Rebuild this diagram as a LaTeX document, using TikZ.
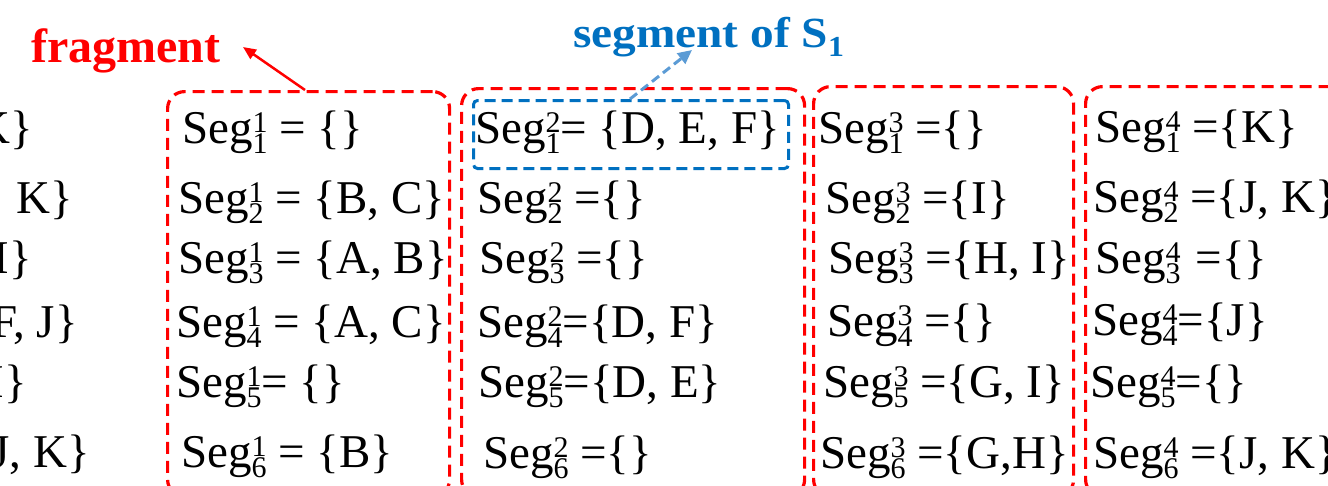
\documentclass[tikz,border=0pt]{standalone}
\usepackage{fontspec}
\setmainfont{Liberation Serif}
\usetikzlibrary{arrows.meta}
\newcommand\scr{\fontsize{30}{30}\selectfont}
\newcommand\sgx[2]{Seg\rlap{\raisebox{11pt}{\scr #1}}\raisebox{-10pt}{\scr #2}}
\definecolor{fragred}{HTML}{FF0000}
\definecolor{segblue}{HTML}{0070C0}
\definecolor{arrblue}{HTML}{5B9BD5}
\tikzset{
  entry/.style={anchor=base west, inner sep=0pt, font=\fontsize{47}{50}\selectfont},
  lentry/.style={anchor=base east, inner sep=0pt, font=\fontsize{47}{50}\selectfont},
  fragbox/.style={draw=fragred, line width=3.2pt, dash pattern=on 12pt off 7pt, rounded corners=17pt, anchor=north west, inner sep=0pt},
  segbox/.style={draw=segblue, line width=3pt, dash pattern=on 11pt off 6pt, rounded corners=4pt, anchor=north west, inner sep=0pt},
  redarrow/.style={draw=fragred, line width=2.5pt, -{Triangle[length=13pt,width=11pt]}},
  bluearrow/.style={draw=arrblue, line width=3pt, dash pattern=on 9pt off 5pt, -{Triangle[length=14pt,width=13pt]}},
}
\begin{document}
\begin{tikzpicture}[x=1pt,y=-1pt]
\useasboundingbox (0,0) rectangle (1328,485);
\clip (0,0) rectangle (1328,485);
% fragment boxes
\node[fragbox, minimum width=282pt, minimum height=405pt] (f1) at (166,90) {};
\node[fragbox, minimum width=343pt, minimum height=408pt] (f2) at (460,87) {};
\node[fragbox, minimum width=260pt, minimum height=410pt] (f3) at (812,85) {};
\node[fragbox, minimum width=262pt, minimum height=410pt] (f4) at (1084,85) {};
% blue segment box
\node[segbox, minimum width=315pt, minimum height=68pt] (sb) at (472,99) {};
% labels
\node[anchor=base west, inner sep=0pt, text=fragred, font=\fontsize{48}{50}\selectfont\bfseries] (frag) at (31,62) {fragment};
\node[anchor=base west, inner sep=0pt, text=segblue, font=\fontsize{43}{46}\selectfont\bfseries] (seglab) at (573,47) {\scalebox{1.1}[1]{segment of S\raisebox{-9pt}{\fontsize{29}{29}\selectfont 1}}};
% arrows
\coordinate (ra) at (305,90);
\coordinate (rt) at (243,47);
\draw[redarrow] (ra) -- (rt);
\coordinate (ba) at (630,99);
\coordinate (bt) at (692,50);
\draw[bluearrow] (ba) -- (bt);
% left partial column
\node[lentry] (l1) at (33,143) {K\}};
\node[lentry] (l2) at (73,213) {,\hspace{16pt}K\}};
\node[lentry] (l3) at (32,273) {I\}};
\node[lentry] (l4) at (78,337) {F, J\}};
\node[lentry] (l5) at (27,397) {I\}};
\node[lentry] (l6) at (90,467) {J, K\}};
% column 1
\node[entry] (a1) at (182,143) {\sgx{1}{1} = \{\}};
\node[entry] (a2) at (178,213) {\sgx{1}{2} = \{B, C\}};
\node[entry] (a3) at (178,273) {\sgx{1}{3} = \{A, B\}};
\node[entry] (a4) at (176,337) {\sgx{1}{4} = \{A, C\}};
\node[entry] (a5) at (176,397) {\sgx{1}{5}= \{\}};
\node[entry] (a6) at (181,467) {\sgx{1}{6} = \{B\}};
% column 2
\node[entry] (b1) at (475,143) {\sgx{2}{1}= \{D, E, F\}};
\node[entry] (b2) at (477,213) {\sgx{2}{2} =\{\}};
\node[entry] (b3) at (479,273) {\sgx{2}{3} =\{\}};
\node[entry] (b4) at (477,337) {\sgx{2}{4}=\{D, F\}};
\node[entry] (b5) at (478,397) {\sgx{2}{5}=\{D, E\}};
\node[entry] (b6) at (483,468) {\sgx{2}{6} =\{\}};
% column 3
\node[entry] (c1) at (818,143) {\sgx{3}{1} =\{\}};
\node[entry] (c2) at (825,213) {\sgx{3}{2} =\{I\}};
\node[entry] (c3) at (828,273) {\sgx{3}{3} =\{H, I\}};
\node[entry] (c4) at (827,336) {\sgx{3}{4} =\{\}};
\node[entry] (c5) at (823,397) {\sgx{3}{5} =\{G, I\}};
\node[entry] (c6) at (820,468) {\sgx{3}{6} =\{G,H\}};
% column 4
\node[entry] (d1) at (1095,142) {\sgx{4}{1} =\{K\}};
\node[entry] (d2) at (1093,212) {\sgx{4}{2} =\{J, K\}};
\node[entry] (d3) at (1095,273) {\sgx{4}{3}\hspace{15pt}=\{\}};
\node[entry] (d4) at (1092,335) {\sgx{4}{4}=\{J\}};
\node[entry] (d5) at (1090,397) {\sgx{4}{5}=\{\}};
\node[entry] (d6) at (1093,468) {\sgx{4}{6} =\{J, K\}};
\end{tikzpicture}
\end{document}
